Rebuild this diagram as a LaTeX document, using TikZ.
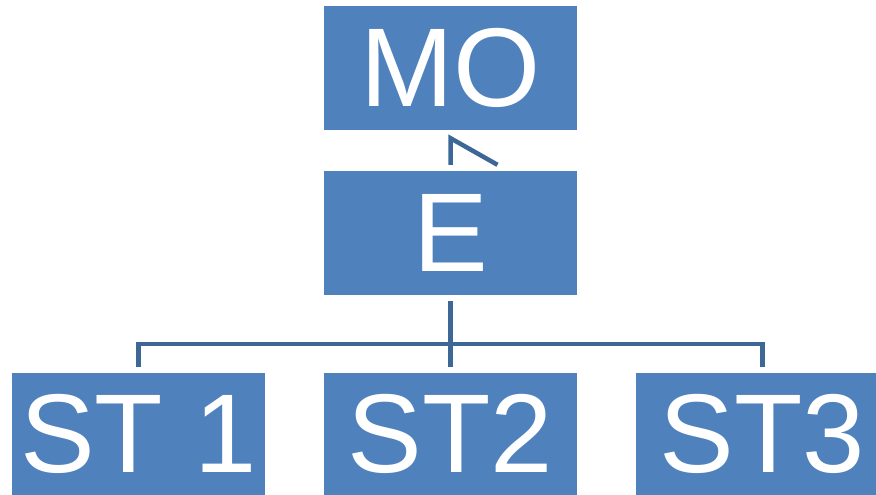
\documentclass[tikz,border=0pt]{standalone}
\usepackage{fontspec}
\setmainfont{Liberation Sans}
\definecolor{boxblue}{HTML}{4F81BD}
\definecolor{lineblue}{HTML}{3D6797}
\begin{document}
\begin{tikzpicture}[x=1pt,y=-1pt,
  box/.style={fill=boxblue, draw=none, minimum width=253pt, minimum height=124pt, inner sep=0pt,
    text=white, font=\fontsize{112}{112}\selectfont},
  lowbox/.style={box, minimum height=122pt},
  conn/.style={draw=lineblue, line width=4.5pt, line join=miter}]
\useasboundingbox (0,0) rectangle (876,495);
\node[box] (mo) at (450.5,68) {MO};
\node[box] (e) at (450.5,233) {E};
\node[lowbox] (st1) at (138.5,434) {ST 1};
\node[lowbox] (st2) at (450.5,434) {ST2};
\node[lowbox, minimum width=240pt] (st3) at (756,434) {\hspace{13pt}ST3};
\coordinate (bus) at (450.5,344);
\draw[conn] ([yshift=6pt]e.north) -- ([yshift=-8pt]mo.south) -- ([xshift=47pt,yshift=6pt]e.north);
\draw[conn] ([yshift=-6pt]e.south) -- ([yshift=6pt]st2.north);
\draw[conn] ([yshift=6pt]st1.north) |- (bus) -| ([xshift=6.5pt,yshift=6pt]st3.north);
\end{tikzpicture}
\end{document}
